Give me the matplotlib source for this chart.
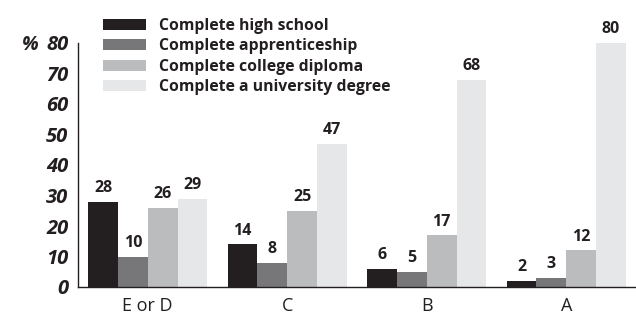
import matplotlib.pyplot as plt
import numpy as np
from matplotlib.patches import Patch

plt.rcParams['font.family'] = ['Open Sans', 'DejaVu Sans']

groups = ["E or D", "C", "B", "A"]
series = ["Complete high school", "Complete apprenticeship",
          "Complete college diploma", "Complete a university degree"]
high_school = [28, 14, 6, 2]
apprenticeship = [10, 8, 5, 3]
college = [26, 25, 17, 12]
university = [29, 47, 68, 80]
values = [high_school, apprenticeship, college, university]
colors = ["#231f20", "#77777a", "#bbbcbe", "#e6e7e8"]
yticks = [0, 10, 20, 30, 40, 50, 60, 70, 80]

fig = plt.figure(figsize=(6.36, 3.14), dpi=100)
ax = fig.add_axes([78 / 636, 27 / 314, 1 - 78 / 636, (287 - 43) / 314])

x = np.arange(len(groups))
w = 0.214
for i, (vals, col) in enumerate(zip(values, colors)):
    pos = x + (i - 1.5) * w
    ax.bar(pos, vals, width=w, color=col, linewidth=0)
    for p, v in zip(pos, vals):
        ax.annotate(str(v), (p, v), xytext=(0, 4), textcoords="offset points",
                    ha="center", va="bottom", fontsize=11.5, fontweight="bold",
                    color="#231f20")

ax.set_xlim(-0.5, 3.5)
ax.set_ylim(0, 80)
ax.set_xticks(x)
ax.set_xticklabels(groups, fontsize=13, color="#231f20")
ax.set_yticks(yticks)
ax.set_yticklabels([str(t) for t in yticks], fontsize=14.5, fontweight="bold",
                   fontstyle="italic", color="#231f20")
ax.tick_params(axis="x", length=0, pad=7)
ax.tick_params(axis="y", length=0, pad=7)
for s in ["top", "right"]:
    ax.spines[s].set_visible(False)
for s in ["left", "bottom"]:
    ax.spines[s].set_color("#231f20")
    ax.spines[s].set_linewidth(1.0)

fig.text(30 / 636, 1 - 45 / 314, "%", fontsize=14, fontweight="bold",
         fontstyle="italic", color="#231f20", ha="center", va="center")

handles = [Patch(facecolor=c, edgecolor="none") for c in colors]
leg = fig.legend(handles, series, loc="upper left",
                 bbox_to_anchor=(103 / 636, 1 - 18 / 314), frameon=False,
                 borderpad=0, borderaxespad=0, handlelength=2.75,
                 handleheight=0.7, handletextpad=0.8, labelspacing=0.28,
                 prop={"size": 11.3, "weight": "bold"})
for t in leg.get_texts():
    t.set_color("#231f20")

fig.savefig("out.png", dpi=100)
